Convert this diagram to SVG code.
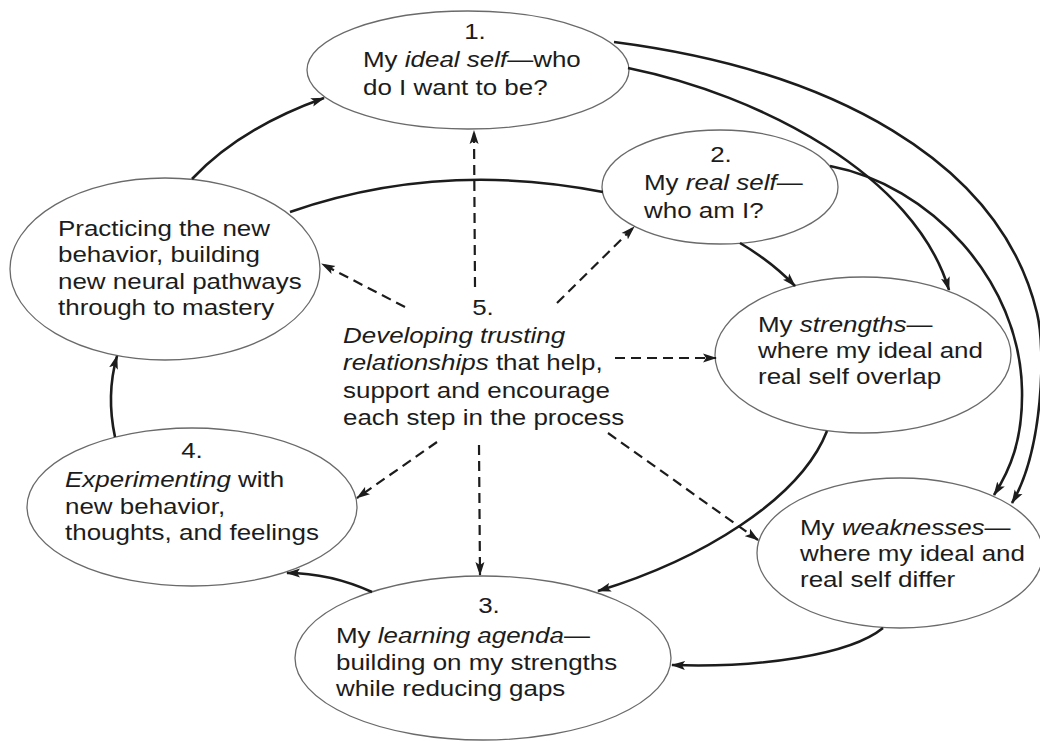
<svg xmlns="http://www.w3.org/2000/svg" width="1040" height="741" viewBox="0 0 1040 741">
<style>
  .node ellipse { fill: #ffffff; stroke: #6a6a6a; stroke-width: 1.3; }
  text { font-family: "Liberation Sans", Arial, sans-serif; font-size: 22px; fill: #1c1c1c; }
  .c { text-anchor: middle; }
  .i { font-style: italic; }
  .solid { fill: none; stroke: #1c1c1c; stroke-width: 2.6; }
  .arrow { marker-end: url(#ah); }
  .dash { fill: none; stroke: #1c1c1c; stroke-width: 2.2; stroke-dasharray: 10 6; marker-end: url(#ah); }
</style>
<defs>
  <marker id="ah" markerUnits="userSpaceOnUse" markerWidth="14" markerHeight="10" refX="13" refY="5" orient="auto">
    <path d="M0,0.5 L14,5 L0,9.5 L3,5 z" fill="#1c1c1c"/>
  </marker>
</defs>
<rect width="1040" height="741" fill="#ffffff"/>

<g id="node-ideal" class="node">
  <ellipse cx="468" cy="70" rx="161" ry="59"/>
  <text class="c" transform="translate(475,39) scale(1.18,1)">1.</text>
  <text transform="translate(363,67) scale(1.18,1)">My <tspan class="i">ideal self</tspan>—who<tspan x="0" dy="28">do I want to be?</tspan></text>
</g>

<g id="node-real" class="node">
  <ellipse cx="720" cy="187" rx="118" ry="57"/>
  <text class="c" transform="translate(721,162) scale(1.18,1)">2.</text>
  <text transform="translate(644,190) scale(1.18,1)">My <tspan class="i">real self</tspan>—<tspan x="0" dy="28">who am I?</tspan></text>
</g>

<g id="node-strengths" class="node">
  <ellipse cx="863" cy="355" rx="148" ry="78"/>
  <text transform="translate(758,332) scale(1.18,1)">My <tspan class="i">strengths</tspan>—<tspan x="0" dy="26">where my ideal and</tspan><tspan x="0" dy="26">real self overlap</tspan></text>
</g>

<g id="node-weaknesses" class="node">
  <ellipse cx="900" cy="553" rx="143" ry="75"/>
  <text transform="translate(800,535) scale(1.18,1)">My <tspan class="i">weaknesses</tspan>—<tspan x="0" dy="26">where my ideal and</tspan><tspan x="0" dy="26">real self differ</tspan></text>
</g>

<g id="node-agenda" class="node">
  <ellipse cx="483" cy="658" rx="188" ry="82"/>
  <text class="c" transform="translate(489,613) scale(1.18,1)">3.</text>
  <text transform="translate(336,643) scale(1.18,1)">My <tspan class="i">learning agenda</tspan>—<tspan x="0" dy="27">building on my strengths</tspan><tspan x="0" dy="26">while reducing gaps</tspan></text>
</g>

<g id="node-experimenting" class="node">
  <ellipse cx="192" cy="507" rx="165" ry="79"/>
  <text class="c" transform="translate(192,458) scale(1.18,1)">4.</text>
  <text transform="translate(65,487) scale(1.18,1)"><tspan class="i">Experimenting</tspan> with<tspan x="0" dy="27">new behavior,</tspan><tspan x="0" dy="26">thoughts, and feelings</tspan></text>
</g>

<g id="node-practicing" class="node">
  <ellipse cx="165" cy="269" rx="155" ry="91"/>
  <text transform="translate(58,236) scale(1.18,1)">Practicing the new<tspan x="0" dy="26">behavior, building</tspan><tspan x="0" dy="27">new neural pathways</tspan><tspan x="0" dy="26">through to mastery</tspan></text>
</g>

<g id="node-relationships">
  <text class="c" transform="translate(483,315) scale(1.18,1)">5.</text>
  <text transform="translate(343,343) scale(1.18,1)"><tspan class="i">Developing trusting</tspan><tspan x="0" dy="27"><tspan class="i">relationships</tspan> that help,</tspan><tspan x="0" dy="28">support and encourage</tspan><tspan x="0" dy="27">each step in the process</tspan></text>
</g>

<g id="connectors">
  <path class="solid arrow" d="M192,179 Q240,128 324,98"/>
  <path class="solid arrow" d="M614,42 C830,70 1000,160 1037,313 C1046,350 1043,450 1012,503"/>
  <path class="solid arrow" d="M628,68 C760,95 915,175 949,290"/>
  <path class="solid arrow" d="M830,166 C930,185 1020,280 1022,390 C1023,440 1010,470 994,495"/>
  <path class="solid arrow" d="M740,243 Q772,262 795,286"/>
  <path class="solid" d="M290,212 Q440,160 603,192"/>
  <path class="solid arrow" d="M827,431 C800,500 700,560 598,591"/>
  <path class="solid arrow" d="M883,628 C850,655 760,668 672,665"/>
  <path class="solid arrow" d="M372,592 Q330,573 287,573"/>
  <path class="solid arrow" d="M115,437 Q106,395 117,356"/>

  <path class="dash" d="M475,287 L474,131"/>
  <path class="dash" d="M557,303 L634,227"/>
  <path class="dash" d="M405,307 L322,264"/>
  <path class="dash" d="M615,358 L716,358"/>
  <path class="dash" d="M437,442 L357,498"/>
  <path class="dash" d="M479,445 L480,575"/>
  <path class="dash" d="M608,433 L758,540"/>
</g>
</svg>
